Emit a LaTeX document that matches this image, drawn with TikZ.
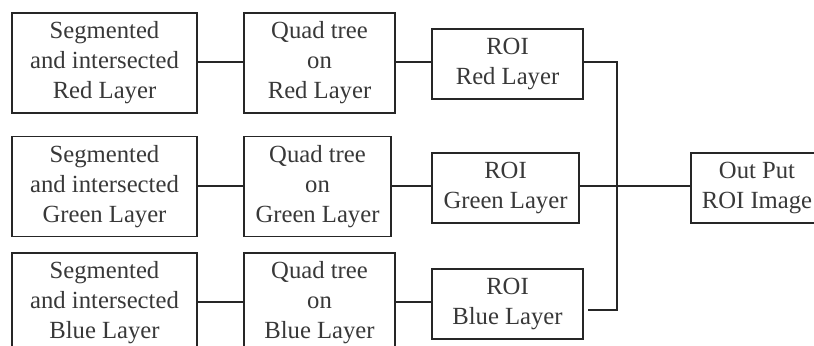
\documentclass[tikz,border=0pt]{standalone}
\usepackage{fontspec}
\setmainfont{Liberation Serif}
\usepackage{tikz}
\usetikzlibrary{calc}

\begin{document}
\begin{tikzpicture}[x=0.75pt, y=-0.75pt,
    box/.style={draw=black!85, line width=1.3pt, align=center, inner sep=0pt,
        text=black!78, font=\fontsize{18.5}{22.5}\selectfont},
    wide/.style={box, minimum width=138.75pt, minimum height=75pt},
    quad/.style={box, minimum width=113.25pt, minimum height=75pt},
    roi/.style={box, minimum width=113.25pt, minimum height=52.5pt},
    link/.style={draw=black!85, line width=1.6pt},
    thin/.style={draw=black!85, line width=1.1pt}]
    \clip (0, 0) rectangle (814, 346);

    % Red layer
    \node[wide] (segr) at (104.5, 63) {Segmented\\and intersected\\Red Layer};
    \node[quad] (quadr) at (319.5, 63) {Quad tree\\on\\Red Layer};
    \node[roi] (roir) at (507.5, 64) {ROI\\Red Layer};

    % Green layer
    \node[wide] (segg) at (104.5, 186.5) {Segmented\\and intersected\\Green Layer};
    \node[quad, minimum width=110.25pt] (quadg) at (317.5, 186.5) {Quad tree\\on\\Green Layer};
    \node[roi, minimum width=110.25pt] (roig) at (505.5, 188) {ROI\\Green Layer};

    % Blue layer
    \node[wide] (segb) at (104.5, 303) {Segmented\\and intersected\\Blue Layer};
    \node[quad] (quadb) at (319.5, 303) {Quad tree\\on\\Blue Layer};
    \node[roi] (roib) at (507.5, 304) {ROI\\Blue Layer};

    % Output
    \node[roi, minimum width=99pt] (outroi) at (757, 188) {Out Put\\ROI Image};

    % Connectors
    \draw[link] (segr.east |- 0, 62) -- (quadr.west |- 0, 62);
    \draw[link] (quadr.east |- 0, 62) -- (roir.west |- 0, 62);
    \draw[link] (segg.east |- 0, 186) -- (quadg.west |- 0, 186);
    \draw[link] (quadg.east |- 0, 186) -- (roig.west |- 0, 186);
    \draw[link] (segb.east |- 0, 302) -- (quadb.west |- 0, 302);
    \draw[link] (quadb.east |- 0, 302) -- (roib.west |- 0, 302);

    % Merge bus
    \coordinate (bustop) at (617, 62);
    \coordinate (busbot) at (617, 310);
    \draw[link] (roir.east |- bustop) -- (bustop) -- (busbot) -- ($(roib.east |- busbot)+(4,0)$);
    \draw[thin] (roig.east |- 0, 186) -- (outroi.west |- 0, 186);
\end{tikzpicture}
\end{document}
